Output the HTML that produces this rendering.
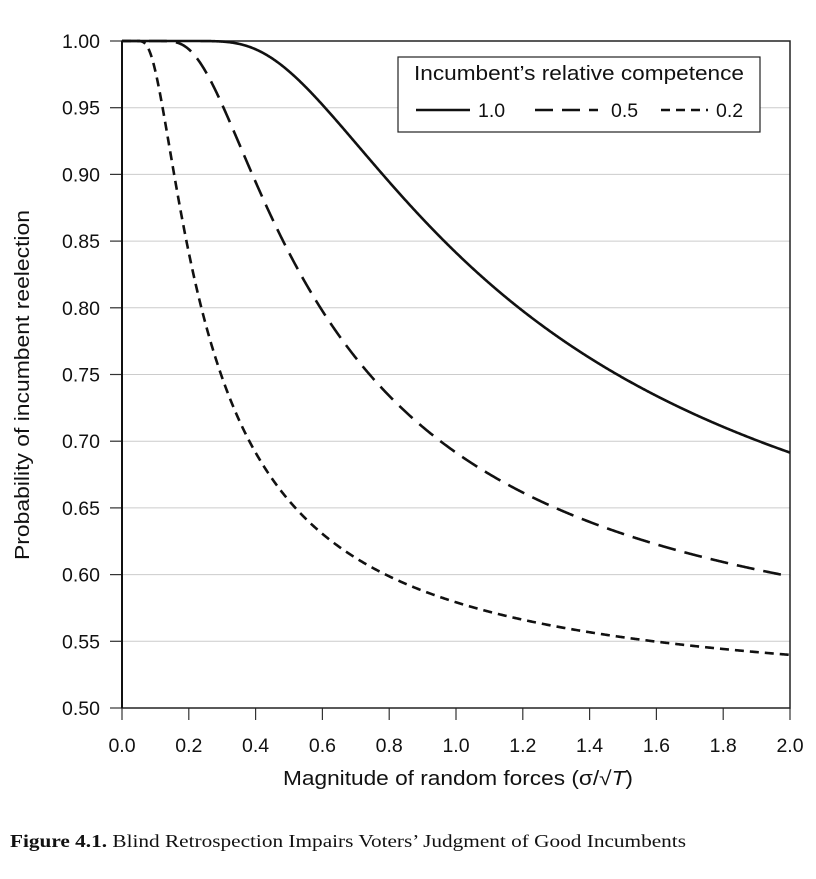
<!DOCTYPE html>
<html><head><meta charset="utf-8"><style>
body{margin:0;background:#fff;width:816px;height:874px;overflow:hidden}
svg text{font-family:"Liberation Sans",sans-serif;fill:#111}
</style></head><body>
<svg id="s" width="816" height="874" xmlns="http://www.w3.org/2000/svg">
<g id="grid"></g>
<rect x="122" y="41" width="668" height="667" fill="none" stroke="#222" stroke-width="1.5"/>
<line x1="122" y1="41" x2="122" y2="708" stroke="#111" stroke-width="2"/>
<g id="ticks" font-size="19.5"></g>
<path id="c1" fill="none" stroke="#111" stroke-width="2.6"/>
<path id="c2" fill="none" stroke="#111" stroke-width="2.6" stroke-dasharray="18,9"/>
<path id="c3" fill="none" stroke="#111" stroke-width="2.6" stroke-dasharray="9,6"/>
<rect x="398" y="57" width="362" height="75" fill="#fff" stroke="#222" stroke-width="1.2"/>
<text x="414" y="80" font-size="20" textLength="330" lengthAdjust="spacingAndGlyphs">Incumbent’s relative competence</text>
<line x1="416" y1="110" x2="470" y2="110" stroke="#111" stroke-width="2.6"/>
<text x="478" y="117" font-size="19.5">1.0</text>
<line x1="535" y1="110" x2="598" y2="110" stroke="#111" stroke-width="2.6" stroke-dasharray="18,9"/>
<text x="611" y="117" font-size="19.5">0.5</text>
<line x1="661" y1="110" x2="708" y2="110" stroke="#111" stroke-width="2.6" stroke-dasharray="9,6"/>
<text x="716" y="117" font-size="19.5">0.2</text>
<text x="283" y="785" font-size="20" textLength="350" lengthAdjust="spacingAndGlyphs">Magnitude of random forces (σ/√<tspan font-style="italic">T</tspan>)</text>
<text transform="translate(29,385) rotate(-90)" font-size="20" text-anchor="middle" textLength="350" lengthAdjust="spacingAndGlyphs">Probability of incumbent reelection</text>
<text x="10" y="847" font-size="18" textLength="676" lengthAdjust="spacingAndGlyphs" style="font-family:'Liberation Serif',serif"><tspan font-weight="bold">Figure 4.1.</tspan> Blind Retrospection Impairs Voters’ Judgment of Good Incumbents</text>
</svg>
<script>
var X=v=>122+v*334, Y=p=>41+(1-p)*1334;
var g=document.getElementById('grid'),t=document.getElementById('ticks'),h='',k='';
for(var i=0;i<=10;i++){var p=1-i*0.05,y=Y(p);
 if(i<10&&i>0)h+='<line x1="110" y1="'+y+'" x2="790" y2="'+y+'" stroke="#ccc" stroke-width="1"/>';
 h+='<line x1="110" y1="'+y+'" x2="122" y2="'+y+'" stroke="#333" stroke-width="1.2"/>';
 k+='<text x="100" y="'+(y+7)+'" text-anchor="end">'+p.toFixed(2)+'</text>';}
for(var i=0;i<=10;i++){var x=X(i*0.2);
 h+='<line x1="'+x+'" y1="708" x2="'+x+'" y2="720" stroke="#333" stroke-width="1.2"/>';
 k+='<text x="'+x+'" y="752" text-anchor="middle">'+(i*0.2).toFixed(1)+'</text>';}
g.innerHTML=h;t.innerHTML=k;
function erf(x){var s=x<0?-1:1;x=Math.abs(x);var t=1/(1+0.3275911*x);
 var y=1-(((((1.061405429*t-1.453152027)*t)+1.421413741)*t-0.284496736)*t+0.254829592)*t*Math.exp(-x*x);return s*y;}
function Phi(z){return 0.5*(1+erf(z/Math.SQRT2));}
[['c1',1],['c2',0.5],['c3',0.2]].forEach(function(c){var d='M'+X(0)+','+Y(1);
 for(var s=0.002;s<=2.0001;s+=0.002){d+=' L'+X(s).toFixed(2)+','+Y(Phi(c[1]/s)).toFixed(2);}
 document.getElementById(c[0]).setAttribute('d',d);});
</script>
</body></html>
